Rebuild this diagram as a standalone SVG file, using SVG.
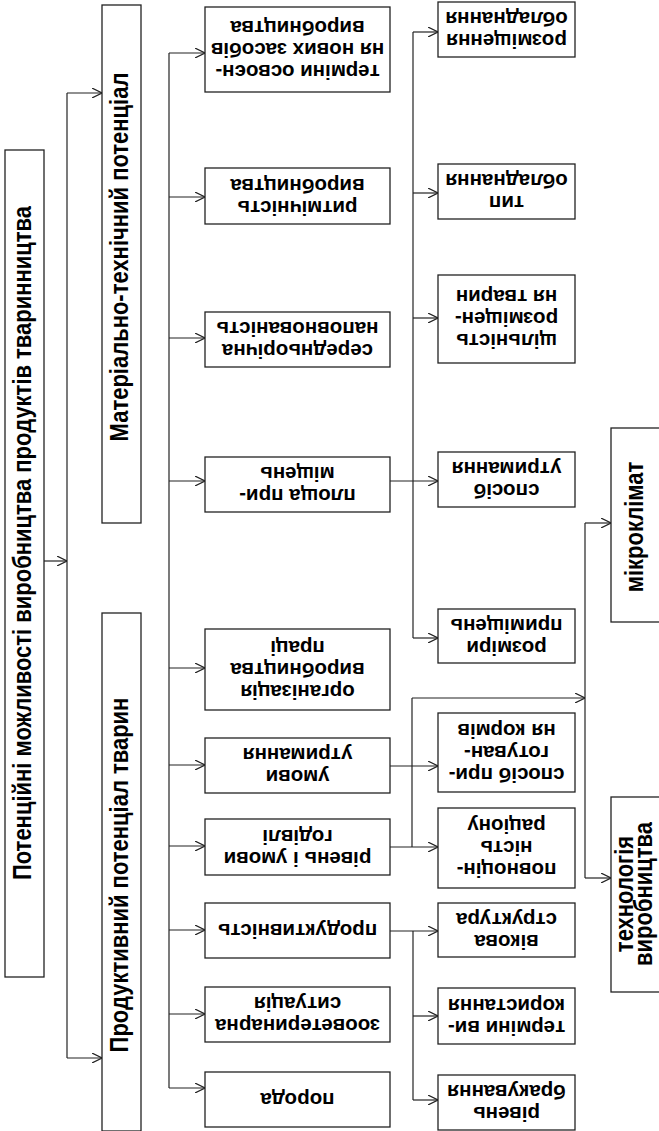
<svg xmlns="http://www.w3.org/2000/svg" width="659" height="1131" viewBox="0 0 659 1131">
<defs>
<marker id="arr" viewBox="0 0 10 10" refX="10" refY="5" markerWidth="10" markerHeight="10" markerUnits="userSpaceOnUse" orient="auto">
<path d="M0,0 L10,5 L0,10" fill="none" stroke="#222" stroke-width="1.2"/>
</marker>
</defs>
<style>
rect{fill:#fff;stroke:#222;stroke-width:1.3}
text{font-family:"Liberation Sans",Arial,sans-serif;font-weight:bold;fill:#000;text-anchor:middle}
.big{font-size:22px}
.m{font-size:20.5px}
#conn line{stroke:#222;stroke-width:1.2;fill:none}
</style>
<rect x="0" y="0" width="659" height="1131" style="fill:#fff;stroke:none"/>
<g id="conn">
<line x1="44" y1="561" x2="67" y2="561" marker-end="url(#arr)"/>
<line x1="67" y1="93" x2="67" y2="1058"/>
<line x1="67" y1="93" x2="102" y2="93" marker-end="url(#arr)"/>
<line x1="67" y1="1058" x2="102" y2="1058" marker-end="url(#arr)"/>
<line x1="169" y1="53" x2="169" y2="1088"/>
<line x1="169" y1="53" x2="205" y2="53" marker-end="url(#arr)"/>
<line x1="169" y1="197" x2="205" y2="197" marker-end="url(#arr)"/>
<line x1="169" y1="338" x2="205" y2="338" marker-end="url(#arr)"/>
<line x1="169" y1="481" x2="205" y2="481" marker-end="url(#arr)"/>
<line x1="169" y1="668" x2="205" y2="668" marker-end="url(#arr)"/>
<line x1="169" y1="765" x2="205" y2="765" marker-end="url(#arr)"/>
<line x1="169" y1="846" x2="205" y2="846" marker-end="url(#arr)"/>
<line x1="169" y1="930" x2="205" y2="930" marker-end="url(#arr)"/>
<line x1="169" y1="1014" x2="205" y2="1014" marker-end="url(#arr)"/>
<line x1="169" y1="1088" x2="205" y2="1088" marker-end="url(#arr)"/>
<line x1="413" y1="32" x2="413" y2="638"/>
<line x1="413" y1="32" x2="438" y2="32" marker-end="url(#arr)"/>
<line x1="413" y1="193" x2="438" y2="193" marker-end="url(#arr)"/>
<line x1="413" y1="318" x2="438" y2="318" marker-end="url(#arr)"/>
<line x1="390" y1="481" x2="438" y2="481" marker-end="url(#arr)"/>
<line x1="413" y1="638" x2="438" y2="638" marker-end="url(#arr)"/>
<line x1="390" y1="766" x2="438" y2="766" marker-end="url(#arr)"/>
<line x1="390" y1="847" x2="438" y2="847" marker-end="url(#arr)"/>
<line x1="412" y1="698" x2="412" y2="847"/>
<line x1="412" y1="698" x2="585" y2="698" marker-end="url(#arr)"/>
<line x1="585" y1="523" x2="585" y2="878"/>
<line x1="585" y1="523" x2="611" y2="523" marker-end="url(#arr)"/>
<line x1="585" y1="878" x2="611" y2="878" marker-end="url(#arr)"/>
<line x1="390" y1="931" x2="438" y2="931" marker-end="url(#arr)"/>
<line x1="413" y1="931" x2="413" y2="1100"/>
<line x1="413" y1="1016" x2="438" y2="1016" marker-end="url(#arr)"/>
<line x1="413" y1="1100" x2="438" y2="1100" marker-end="url(#arr)"/>
</g>
<g id="root"><rect x="5" y="150" width="39" height="827"/>
<text class="big" transform="translate(24.5,543) rotate(-90) scale(1,1.15)" y="6">Потенційні можливості виробництва продуктів тваринництва</text></g>
<g id="mat"><rect x="102" y="5" width="39" height="518"/>
<text class="big" transform="translate(121.5,257) rotate(-90) scale(1,1.15)" y="6">Матеріально-технічний потенціал</text></g>
<g id="prod"><rect x="102" y="613" width="39" height="518"/>
<text class="big" transform="translate(121.5,875) rotate(-90) scale(1,1.15)" y="6">Продуктивний потенціал тварин</text></g>

<g id="m1"><rect x="205" y="7" width="185" height="85"/>
<g transform="rotate(180 297.5 49.5)"><text class="m" x="297.5" y="34">терміни освоєн-</text><text class="m" x="297.5" y="56">ня нових засобів</text><text class="m" x="297.5" y="78">виробництва</text></g></g>
<g id="m2"><rect x="205" y="168" width="185" height="56"/>
<g transform="rotate(180 297.5 196)"><text class="m" x="297.5" y="191">ритмічність</text><text class="m" x="297.5" y="213">виробництва</text></g></g>
<g id="m3"><rect x="205" y="312" width="185" height="55"/>
<g transform="rotate(180 297.5 339.5)"><text class="m" x="297.5" y="335">середньорічна</text><text class="m" x="297.5" y="357">наповнованість</text></g></g>
<g id="m4"><rect x="205" y="457" width="185" height="55"/>
<g transform="rotate(180 297.5 484.5)"><text class="m" x="297.5" y="480">площа при-</text><text class="m" x="297.5" y="502">міщень</text></g></g>
<g id="m5"><rect x="205" y="629" width="185" height="81"/>
<g transform="rotate(180 297.5 669.5)"><text class="m" x="297.5" y="654">організація</text><text class="m" x="297.5" y="676">виробництва</text><text class="m" x="297.5" y="698">праці</text></g></g>
<g id="m6"><rect x="205" y="738" width="185" height="55"/>
<g transform="rotate(180 297.5 765.5)"><text class="m" x="297.5" y="761">умови</text><text class="m" x="297.5" y="783">утримання</text></g></g>
<g id="m7"><rect x="205" y="819" width="185" height="56"/>
<g transform="rotate(180 297.5 847)"><text class="m" x="297.5" y="842">рівень і умови</text><text class="m" x="297.5" y="864">годівлі</text></g></g>
<g id="m8"><rect x="205" y="903" width="185" height="55"/>
<g transform="rotate(180 297.5 930.5)"><text class="m" x="297.5" y="937">продуктивність</text></g></g>
<g id="m9"><rect x="205" y="987" width="185" height="55"/>
<g transform="rotate(180 297.5 1014.5)"><text class="m" x="297.5" y="1010">зооветеринарна</text><text class="m" x="297.5" y="1032">ситуація</text></g></g>
<g id="m10"><rect x="205" y="1072" width="185" height="55"/>
<g transform="rotate(180 297.5 1099.5)"><text class="m" x="297.5" y="1106">порода</text></g></g>

<g id="r1"><rect x="438" y="2" width="137" height="55"/>
<g transform="rotate(180 506.5 29.5)"><text class="m" x="506.5" y="25">розміщення</text><text class="m" x="506.5" y="47">обладнання</text></g></g>
<g id="r2"><rect x="438" y="164" width="137" height="55"/>
<g transform="rotate(180 506.5 191.5)"><text class="m" x="506.5" y="187">тип</text><text class="m" x="506.5" y="209">обладнання</text></g></g>
<g id="r3"><rect x="438" y="275" width="137" height="88"/>
<g transform="rotate(180 506.5 319)"><text class="m" x="506.5" y="304">щільність</text><text class="m" x="506.5" y="326">розміщен-</text><text class="m" x="506.5" y="348">ня тварин</text></g></g>
<g id="r4"><rect x="438" y="452" width="137" height="55"/>
<g transform="rotate(180 506.5 479.5)"><text class="m" x="506.5" y="475">спосіб</text><text class="m" x="506.5" y="497">утримання</text></g></g>
<g id="r5"><rect x="438" y="609" width="137" height="54"/>
<g transform="rotate(180 506.5 636)"><text class="m" x="506.5" y="631">розміри</text><text class="m" x="506.5" y="653">приміщень</text></g></g>
<g id="r6"><rect x="438" y="713" width="137" height="79"/>
<g transform="rotate(180 506.5 752.5)"><text class="m" x="506.5" y="737">спосіб при-</text><text class="m" x="506.5" y="759">готуван-</text><text class="m" x="506.5" y="781">ня кормів</text></g></g>
<g id="r7"><rect x="438" y="808" width="137" height="80"/>
<g transform="rotate(180 506.5 848)"><text class="m" x="506.5" y="833">повноцін-</text><text class="m" x="506.5" y="855">ність</text><text class="m" x="506.5" y="877">раціону</text></g></g>
<g id="r8"><rect x="438" y="903" width="137" height="54"/>
<g transform="rotate(180 506.5 930)"><text class="m" x="506.5" y="925">вікова</text><text class="m" x="506.5" y="947">структура</text></g></g>
<g id="r9"><rect x="438" y="988" width="137" height="56"/>
<g transform="rotate(180 506.5 1016)"><text class="m" x="506.5" y="1011">терміни ви-</text><text class="m" x="506.5" y="1033">користання</text></g></g>
<g id="r10"><rect x="438" y="1075" width="137" height="55"/>
<g transform="rotate(180 506.5 1102.5)"><text class="m" x="506.5" y="1098">рівень</text><text class="m" x="506.5" y="1120">бракування</text></g></g>

<g id="micro"><rect x="611" y="428" width="60" height="194"/>
<text class="big" transform="translate(637.5,527) rotate(-90) scale(1,1.15)" y="5">мікроклімат</text></g>
<g id="tech"><rect x="611" y="797" width="60" height="195"/>
<text class="big" transform="translate(636,894) rotate(-90) scale(1,1.15)"><tspan x="0" y="-2.5">технологія</tspan><tspan x="0" y="14">виробництва</tspan></text></g>
</svg>
